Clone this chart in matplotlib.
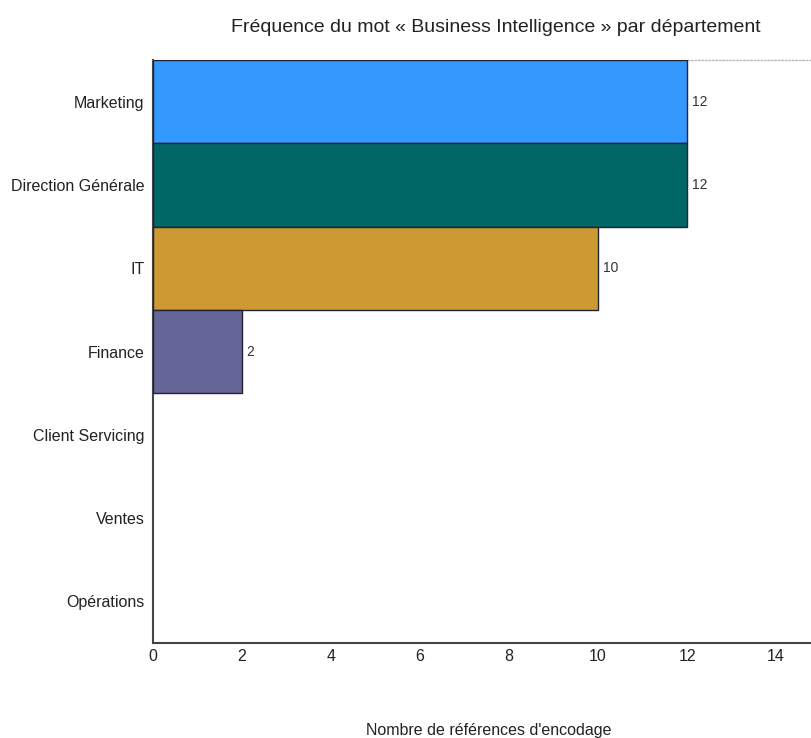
import matplotlib
matplotlib.use("Agg")
import matplotlib.pyplot as plt

categories = ["Marketing", "Direction Générale", "IT", "Finance", "Client Servicing", "Ventes", "Opérations"]
values = [12, 12, 10, 2, 0, 0, 0]
colors = ["#3399FF", "#006666", "#CC9933", "#666699", "#999999", "#999999", "#999999"]
xticks = [0, 2, 4, 6, 8, 10, 12, 14]

plt.rcParams['font.family'] = ['Liberation Sans', 'DejaVu Sans']

fig = plt.figure(figsize=(8.11, 7.38), dpi=100)
ax = fig.add_axes([153/811, 1-643/738, 1-153/811 + 0.002, (643-60)/738])

ypos = list(range(len(categories)))
for i, (c, v, col) in enumerate(zip(categories, values, colors)):
    if v > 0:
        ax.barh(i, v, height=1.0, color=col, edgecolor="#222233", linewidth=1.0, zorder=3)
        ax.text(v + 0.1, i, str(v), va="center", ha="left", fontsize=10, color="#333333")

ax.set_ylim(len(categories) - 0.5, -0.5)
ax.set_xlim(0, 14.82)
ax.set_yticks(ypos)
ax.set_yticklabels(categories, fontsize=11.5, color="#222222")
ax.set_xticks(xticks)
ax.set_xticklabels([str(t) for t in xticks], fontsize=11.5, color="#222222")
ax.tick_params(axis="y", length=0, pad=6)
ax.tick_params(axis="x", length=0, pad=4)

ax.spines["right"].set_visible(False)
ax.spines["top"].set_linestyle((0, (1, 1.5)))
ax.spines["top"].set_color("#bbbbbb")
ax.spines["top"].set_linewidth(1.0)
ax.spines["left"].set_color("#444444")
ax.spines["left"].set_linewidth(1.5)
ax.spines["bottom"].set_color("#444444")
ax.spines["bottom"].set_linewidth(1.5)

fig.text(496/811, 1-28/738, "Fréquence du mot « Business Intelligence » par département",
         ha="center", va="center", fontsize=14, color="#222222")
fig.text(489/811, 1-731/738, "Nombre de références d'encodage",
         ha="center", va="center", fontsize=11.5, color="#222222")

fig.savefig("out.png", dpi=100)
